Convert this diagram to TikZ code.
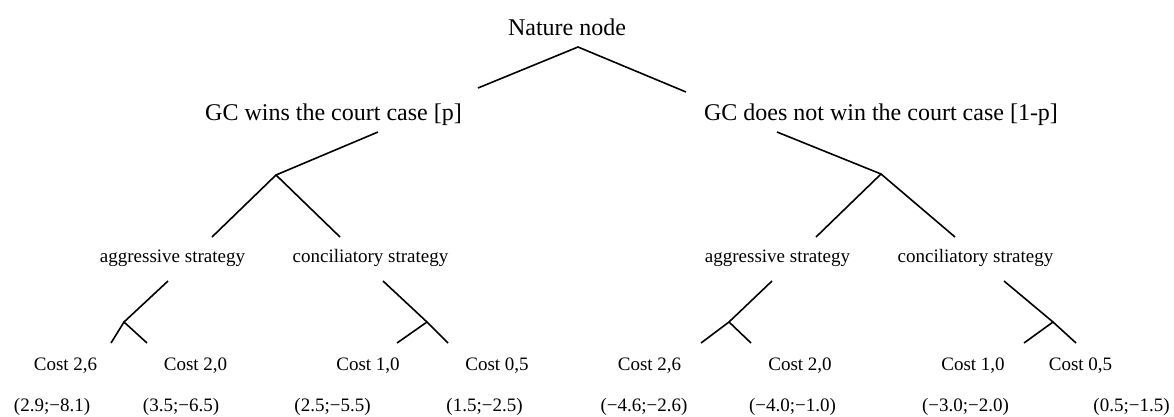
\documentclass[tikz,border=0pt]{standalone}
\usepackage{fontspec}
\setmainfont{Liberation Serif}
\tikzset{
  bigtxt/.style={anchor=base,inner sep=0pt,font=\fontsize{24}{28}\selectfont},
  smalltxt/.style={anchor=base,inner sep=0pt,font=\fontsize{19}{23}\selectfont},
  branch/.style={line width=1.6pt}
}
\begin{document}
\begin{tikzpicture}[x=1pt,y=-1pt]
                \useasboundingbox (0,0) rectangle (1174,416) ;
                \node[bigtxt] (nature) at (567,35) {Nature node} ;
                \node[bigtxt] (win) at (333.5,120) {GC wins the court case [p]} ;
                \node[bigtxt] (lose) at (881,120) {GC does not win the court case [1-p]} ;
                \node[smalltxt] (aggL) at (172.5,262) {aggressive strategy} ;
                \node[smalltxt] (conL) at (370.5,262) {conciliatory strategy} ;
                \node[smalltxt] (aggR) at (777.5,262) {aggressive strategy} ;
                \node[smalltxt] (conR) at (975.5,262) {conciliatory strategy} ;
                \node[smalltxt] (c1) at (65.5,370) {Cost 2,6} ;
                \node[smalltxt] (c2) at (195.5,370) {Cost 2,0} ;
                \node[smalltxt] (c3) at (368,370) {Cost 1,0} ;
                \node[smalltxt] (c4) at (497,370) {Cost 0,5} ;
                \node[smalltxt] (c5) at (649.5,370) {Cost 2,6} ;
                \node[smalltxt] (c6) at (800,370) {Cost 2,0} ;
                \node[smalltxt] (c7) at (973,370) {Cost 1,0} ;
                \node[smalltxt] (c8) at (1080.5,370) {Cost 0,5} ;
                \node[smalltxt] (p1) at (52,411) {(2.9;−8.1)} ;
                \node[smalltxt] (p2) at (181,411) {(3.5;−6.5)} ;
                \node[smalltxt] (p3) at (332.5,411) {(2.5;−5.5)} ;
                \node[smalltxt] (p4) at (484.5,411) {(1.5;−2.5)} ;
                \node[smalltxt] (p5) at (644,411) {(−4.6;−2.6)} ;
                \node[smalltxt] (p6) at (792.5,411) {(−4.0;−1.0)} ;
                \node[smalltxt] (p7) at (965.5,411) {(−3.0;−2.0)} ;
                \node[smalltxt] (p8) at (1131.5,411) {(0.5;−1.5)} ;
                % nature
                \coordinate (n0) at (578,47) ;
                \coordinate (n1) at (478,88) ;
                \coordinate (n2) at (686,92) ;
                \draw[branch] (n1) -- (n0) -- (n2) ;
                % GC wins
                \coordinate (w0) at (378,132) ;
                \coordinate (w1) at (276,175) ;
                \coordinate (w2) at (212,237) ;
                \coordinate (w3) at (340,237) ;
                \draw[branch] (w0) -- (w1) ;
                \draw[branch] (w2) -- (w1) -- (w3) ;
                % GC does not win
                \coordinate (l0) at (777,132) ;
                \coordinate (l1) at (881,174) ;
                \coordinate (l2) at (816,237) ;
                \coordinate (l3) at (955,237) ;
                \draw[branch] (l0) -- (l1) ;
                \draw[branch] (l2) -- (l1) -- (l3) ;
                % strategies
                \coordinate (a0) at (168,281) ;
                \coordinate (a1) at (124,322) ;
                \draw[branch] (a0) -- (a1) ;
                \draw[branch] (111,343) -- (a1) -- (147,343) ;
                \coordinate (b0) at (383,281) ;
                \coordinate (b1) at (427,322) ;
                \draw[branch] (b0) -- (b1) ;
                \draw[branch] (397,343) -- (b1) -- (448,343) ;
                \coordinate (d0) at (772,281) ;
                \coordinate (d1) at (729,322) ;
                \draw[branch] (d0) -- (d1) ;
                \draw[branch] (701,343) -- (d1) -- (751,343) ;
                \coordinate (e0) at (1004,281) ;
                \coordinate (e1) at (1053,322) ;
                \draw[branch] (e0) -- (e1) ;
                \draw[branch] (1024,343) -- (e1) -- (1076,343) ;
            \end{tikzpicture}
\end{document}
